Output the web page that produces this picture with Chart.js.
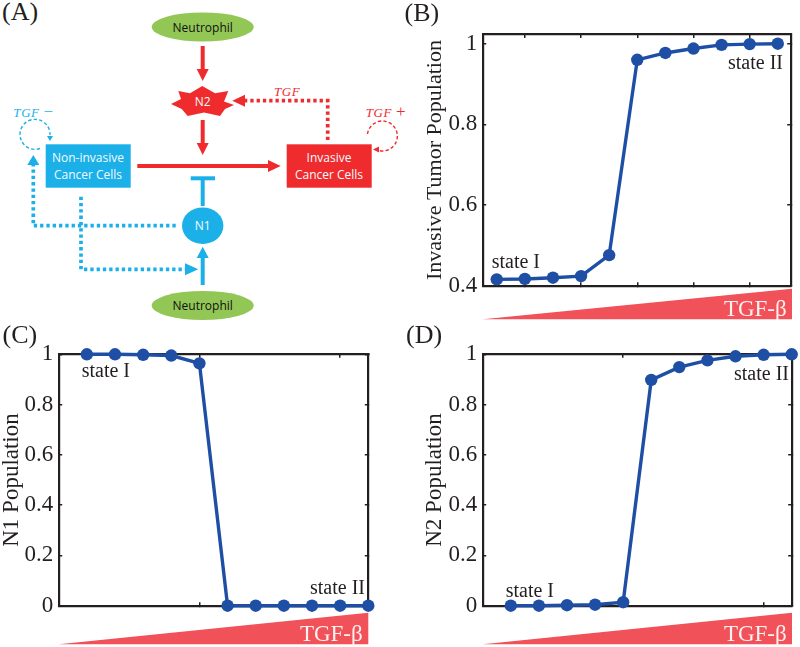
<!DOCTYPE html>
<html>
<head>
<meta charset="utf-8">
<title>TGF-β neutrophil model</title>
<script src="https://cdn.jsdelivr.net/npm/chart.js@4/dist/chart.umd.min.js"></script>
<style>
    html, body { margin: 0; padding: 0; background: #fff; }
    #page { position: relative; width: 800px; height: 647px; overflow: hidden; }
    canvas, svg { position: absolute; display: block; }
    #diagram text { font-family: "Open Sans", sans-serif; font-size: 12px; text-anchor: middle; }
    #diagram text.white { fill: #f4fbfe; }
    #diagram text.tgf { font-family: "Liberation Serif", serif; font-style: italic; font-size: 13px; text-anchor: start; letter-spacing: 0.6px; }
    #diagram text.tgf tspan { font-size: 17px; font-style: normal; }
    #diagram text.panel { font-family: "Liberation Serif", serif; font-size: 26px; text-anchor: start; fill: #231f20; }
</style>
</head>
<body>
<div id="page">
    <svg id="diagram" style="left:0;top:0" width="410" height="320" viewBox="0 0 410 320">
        <text class="panel" x="2" y="20">(A)</text>

        <ellipse cx="202.7" cy="27" rx="51" ry="14.5" fill="#92c756"/>
        <text x="202.7" y="31.5" fill="#111">Neutrophil</text>
        <ellipse cx="202.7" cy="305.5" rx="51" ry="14.5" fill="#92c756"/>
        <text x="202.7" y="310" fill="#111">Neutrophil</text>

        <!-- red side -->
        <g stroke="#ef2b2e" fill="#ef2b2e">
            <line x1="202.7" y1="46" x2="202.7" y2="70" stroke-width="4"/>
            <polygon points="196.7,69 208.7,69 202.7,81" stroke="none"/>
            <line x1="202.7" y1="120" x2="202.7" y2="144" stroke-width="4"/>
            <polygon points="196.7,143 208.7,143 202.7,155" stroke="none"/>
            <line x1="137.3" y1="166" x2="269" y2="166" stroke-width="3.8"/>
            <polygon points="268,160 268,172 280.7,166" stroke="none"/>
            <polyline points="327.7,140 327.7,100.7 245,100.7" fill="none" stroke-width="3.7" stroke-dasharray="3.3 3"/>
            <polygon points="245,94.7 245,106.7 232.3,100.7" stroke="none"/>
            <polygon stroke="none" points="171,104 181,99 178.3,91 190,93.3 202.3,86 215,93.3 228.3,91 224,101.5 234,105 225,109 220,116 204,112.5 187.7,116 181.7,109"/>
            <rect x="286.7" y="144.3" width="85" height="43.4" stroke="none"/>
            <path d="M 367.5 134 A 15 15 0 1 1 377 150" fill="none" stroke-width="1.4" stroke-dasharray="3.4 2.2"/>
            <polygon points="373,149.5 379,146.5 379,152.5" stroke="none"/>
        </g>
        <text class="white" x="202.7" y="105.5">N2</text>
        <text class="white" x="329" y="162.3">Invasive</text>
        <text class="white" x="329" y="179">Cancer Cells</text>
        <text class="tgf" x="274" y="96" fill="#ef2b2e">TGF</text>
        <text class="tgf" x="365.7" y="116.7" fill="#ef2b2e">TGF <tspan>+</tspan></text>

        <!-- blue side -->
        <g stroke="#1cb0e9" fill="#1cb0e9">
            <line x1="202.7" y1="206" x2="202.7" y2="178" stroke-width="4"/>
            <line x1="190.7" y1="178.3" x2="215" y2="178.3" stroke-width="4"/>
            <ellipse cx="202.7" cy="225.7" rx="20.7" ry="18.3" stroke="none"/>
            <line x1="202.7" y1="285" x2="202.7" y2="257" stroke-width="4"/>
            <polygon points="196.7,258 208.7,258 202.7,246.7" stroke="none"/>
            <polyline points="175.7,225.7 33.3,225.7 33.3,165" fill="none" stroke-width="3.7" stroke-dasharray="3.3 3"/>
            <polygon points="27.3,165 39.3,165 33.3,155" stroke="none"/>
            <polyline points="81,196.7 81,269.3 185,269.3" fill="none" stroke-width="3.7" stroke-dasharray="3.3 3"/>
            <polygon points="185,263.3 185,275.3 198.3,269.3" stroke="none"/>
            <rect x="45.7" y="144.3" width="85" height="43.4" stroke="none"/>
            <path d="M 40 148.5 A 15 15 0 1 1 50 135" fill="none" stroke-width="1.4" stroke-dasharray="3.4 2.2"/>
            <polygon points="47,136 53,136 50,141" stroke="none"/>
        </g>
        <text class="white" x="202.7" y="230">N1</text>
        <text class="white" x="88" y="162.3">Non-invasive</text>
        <text class="white" x="88" y="179">Cancer Cells</text>
        <text class="tgf" x="13.3" y="116.7" fill="#1cb0e9">TGF <tspan>−</tspan></text>
    </svg>

    <canvas id="chartB" style="left:400px;top:0" width="400" height="320"></canvas>
    <canvas id="chartC" style="left:0;top:320px" width="400" height="327"></canvas>
    <canvas id="chartD" style="left:400px;top:320px" width="400" height="327"></canvas>
</div>

<script>
const steps = [1, 2, 3, 4, 5, 6, 7, 8, 9, 10, 11]

const invasivePop = [0.416, 0.417, 0.42, 0.424, 0.476, 0.96, 0.977, 0.988, 0.997, 0.999, 1]
const n1Pop = [1, 1, 0.998, 0.995, 0.964, 0, 0, 0, 0, 0, 0]
const n2Pop = [0, 0, 0.002, 0.004, 0.014, 0.898, 0.949, 0.976, 0.992, 0.998, 1]

const invasiveTicks = [0.4, 0.6, 0.8, 1]
const populationTicks = [0, 0.2, 0.4, 0.6, 0.8, 1]
const invasiveStepTicks = [2, 4, 6, 8, 10]
const populationStepTicks = [5, 10]

const INK = '#231f20'
const SERIF = '"Liberation Serif", "Times New Roman", serif'

// panel letter, wedge and state labels, drawn in canvas pixels
const panelExtras = {
    id: 'panelExtras',
    afterDraw(chart, args, opts) {
        const ctx = chart.ctx
        const w = opts.wedge
        ctx.save()
        ctx.fillStyle = '#f15159'
        ctx.beginPath()
        ctx.moveTo(w.left, w.bottom)
        ctx.lineTo(w.right, w.top)
        ctx.lineTo(w.right, w.bottom)
        ctx.closePath()
        ctx.fill()

        ctx.textBaseline = 'alphabetic'
        ctx.fillStyle = '#fdf1f1'
        ctx.font = '23px ' + SERIF
        ctx.textAlign = 'right'
        ctx.fillText('TGF-β', w.labelRight, w.labelY)

        ctx.fillStyle = INK
        ctx.font = '26px ' + SERIF
        ctx.textAlign = 'left'
        ctx.fillText(opts.letter, opts.letterX, opts.letterY)

        ctx.font = '20px ' + SERIF
        opts.notes.forEach(n => {
            ctx.textAlign = n.align
            ctx.fillText(n.text, n.x, n.y)
        })
        ctx.restore()
    }
}

function fixedTicks(list) {
    return (axis) => { axis.ticks = list.map(v => ({ value: v })) }
}

function frameAxis(position, min, max, list, size) {
    return {
        type: 'linear',
        position: position,
        min: min,
        max: max,
        afterBuildTicks: fixedTicks(list),
        afterFit: (axis) => {
            if (position === 'left' || position === 'right') axis.width = size
            else axis.height = size
        },
        border: { color: INK, width: 2.2 },
        grid: { drawOnChartArea: false, color: INK, lineWidth: 1.5, tickLength: -3.5 },
        ticks: { display: false }
    }
}

function makePanel(id, cfg) {
    const yAxis = frameAxis('left', cfg.yMin, cfg.yMax, cfg.yTicks, cfg.plot.left)
    yAxis.ticks = {
        display: true,
        color: INK,
        padding: 9,
        font: { family: SERIF, size: 23 },
        callback: (v) => String(v)
    }
    yAxis.title = {
        display: true,
        text: cfg.title,
        color: INK,
        font: { family: SERIF, size: cfg.titleSize, lineHeight: 1 },
        padding: { top: cfg.titlePad, bottom: 0 }
    }
    return new Chart(document.getElementById(id), {
        type: 'line',
        data: {
            datasets: [{
                data: steps.map((s, i) => ({ x: s, y: cfg.values[i] })),
                borderColor: '#1f4fa5',
                backgroundColor: '#1f4fa5',
                borderWidth: 3.4,
                pointRadius: 6.2,
                pointBorderWidth: 0,
                tension: 0,
                clip: false
            }]
        },
        options: {
            responsive: false,
            animation: false,
            layout: { padding: cfg.plot.padding },
            scales: {
                x: frameAxis('bottom', cfg.xMin, cfg.xMax, cfg.xTicks, 0),
                x2: frameAxis('top', cfg.xMin, cfg.xMax, cfg.xTicks, 0),
                y: yAxis,
                y2: frameAxis('right', cfg.yMin, cfg.yMax, cfg.yTicks, 0)
            },
            plugins: {
                legend: { display: false },
                tooltip: { enabled: false },
                panelExtras: cfg.extras
            }
        },
        plugins: [panelExtras]
    })
}

makePanel('chartB', {
    values: invasivePop,
    title: 'Invasive Tumor Population',
    titleSize: 22,
    titlePad: 24,
    xMin: 0.5,
    xMax: 11.46,
    xTicks: invasiveStepTicks,
    yMin: 0.4,
    yMax: 1.023,
    yTicks: invasiveTicks,
    plot: { left: 82.7, padding: { top: 34.4, right: 9.3, bottom: 34.2, left: 0 } },
    extras: {
        letter: '(B)', letterX: 4.5, letterY: 21,
        wedge: { left: 82.7, right: 392, top: 288.7, bottom: 319.3, labelRight: 386.7, labelY: 316 },
        notes: [
            { text: 'state I', x: 91.7, y: 268, align: 'left' },
            { text: 'state II', x: 383, y: 69, align: 'right' }
        ]
    }
})

makePanel('chartC', {
    values: n1Pop,
    title: 'N1 Population',
    titleSize: 23,
    titlePad: 0,
    xMin: 0,
    xMax: 11,
    xTicks: populationStepTicks,
    yMin: 0,
    yMax: 1,
    yTicks: populationTicks,
    plot: { left: 58.7, padding: { top: 34.3, right: 31.7, bottom: 41.3, left: 0 } },
    extras: {
        letter: '(C)', letterX: 2.5, letterY: 22.7,
        wedge: { left: 58.7, right: 368.3, top: 292.7, bottom: 324.3, labelRight: 362.7, labelY: 320.7 },
        notes: [
            { text: 'state I', x: 81.7, y: 57, align: 'left' },
            { text: 'state II', x: 365, y: 274, align: 'right' }
        ]
    }
})

makePanel('chartD', {
    values: n2Pop,
    title: 'N2 Population',
    titleSize: 23,
    titlePad: 23.5,
    xMin: 0,
    xMax: 11,
    xTicks: populationStepTicks,
    yMin: 0,
    yMax: 1,
    yTicks: populationTicks,
    plot: { left: 82.7, padding: { top: 34.3, right: 8.3, bottom: 41.3, left: 0 } },
    extras: {
        letter: '(D)', letterX: 6, letterY: 22.7,
        wedge: { left: 82.7, right: 392, top: 292.7, bottom: 324.3, labelRight: 386.7, labelY: 320.7 },
        notes: [
            { text: 'state I', x: 105.7, y: 276.7, align: 'left' },
            { text: 'state II', x: 389, y: 60, align: 'right' }
        ]
    }
})
</script>
</body>
</html>
